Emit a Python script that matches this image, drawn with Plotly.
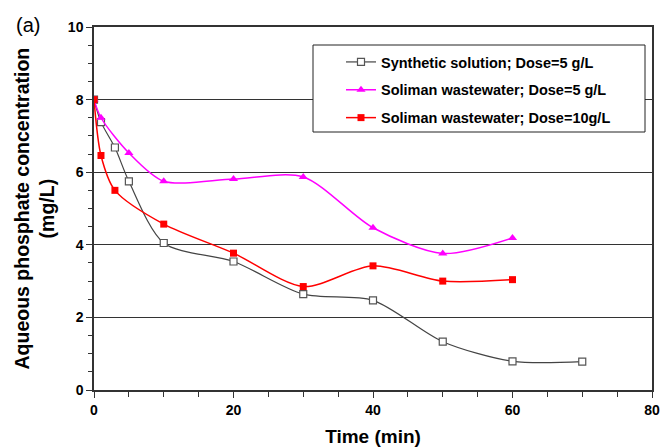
import plotly.graph_objects as go

# Data
t_syn = [0, 1, 3, 5, 10, 20, 30, 40, 50, 60, 70]
c_syn = [8.0, 7.38, 6.68, 5.75, 4.05, 3.54, 2.64, 2.47, 1.33, 0.79, 0.78]

t_sw5 = [0, 1, 5, 10, 20, 30, 40, 50, 60]
c_sw5 = [8.0, 7.5, 6.53, 5.75, 5.81, 5.87, 4.47, 3.76, 4.19]

t_sw10 = [0, 1, 3, 10, 20, 30, 40, 50, 60]
c_sw10 = [8.0, 6.46, 5.5, 4.57, 3.77, 2.85, 3.42, 3.0, 3.04]

names = [
    "Synthetic solution; Dose=5 g/L",
    "Soliman wastewater; Dose=5 g/L",
    "Soliman wastewater; Dose=10g/L",
]

x_ticks = [0, 20, 40, 60, 80]
y_ticks = [0, 2, 4, 6, 8, 10]

FONT = "Liberation Sans, Arial, sans-serif"
L, R, T, B = 94, 652, 27, 390
PW, PH = R - L, B - T

def px_x(p):
    return (p - L) / PW

def px_y(p):
    return (B - p) / PH

fig = go.Figure()
fig.add_trace(go.Scatter(
    x=t_syn, y=c_syn, name=names[0], mode="lines+markers",
    line=dict(color="#444444", width=1.2, shape="spline", smoothing=0.8),
    marker=dict(symbol="square", size=7, color="white",
                line=dict(color="#555555", width=1.2)),
    legendgroup="a",
))
fig.add_trace(go.Scatter(
    x=t_sw5, y=c_sw5, name=names[1], mode="lines+markers",
    line=dict(color="#ff00ff", width=1.5, shape="spline", smoothing=0.8),
    marker=dict(symbol="triangle-up", size=8, color="#ff00ff"),
    legendgroup="b",
))
fig.add_trace(go.Scatter(
    x=t_sw10, y=c_sw10, name=names[2], mode="lines+markers",
    line=dict(color="#ff0000", width=1.5, shape="spline", smoothing=0.8),
    marker=dict(symbol="square", size=7, color="#ff0000"),
    legendgroup="c",
))

# legend box
fig.add_shape(type="rect", xref="paper", yref="paper",
              x0=px_x(313), x1=px_x(645), y0=px_y(132), y1=px_y(45),
              line=dict(color="#222222", width=1), fillcolor="white", layer="above")

fig.update_layout(
    width=662, height=447,
    margin=dict(l=L, r=662 - R, t=T, b=447 - B, autoexpand=False),
    paper_bgcolor="white", plot_bgcolor="white",
    font=dict(family=FONT, color="black"),
    showlegend=True,
    legend=dict(
        x=px_x(341), y=px_y(46), xanchor="left", yanchor="top",
        bgcolor="rgba(0,0,0,0)", borderwidth=0,
        font=dict(family=FONT, size=14.5, color="black", weight="bold"),
        tracegroupgap=6, itemwidth=30,
    ),
    xaxis=dict(
        range=[0, 80], tickvals=x_ticks, ticktext=[str(v) for v in x_ticks],
        tickfont=dict(family=FONT, size=14, weight="bold"),
        ticks="outside", ticklen=6, tickcolor="#333333", tickwidth=1.2,
        minor=dict(dtick=5, ticks="outside", ticklen=5, tickcolor="#333333", tickwidth=1.2, showgrid=False),
        showline=True, linecolor="#333333", linewidth=1.5, mirror=True,
        showgrid=False, zeroline=False, automargin=False,
        title=dict(text="Time (min)", font=dict(family=FONT, size=19, weight="bold"), standoff=13),
    ),
    yaxis=dict(
        range=[0, 10], tickvals=y_ticks, ticktext=[str(v) for v in y_ticks],
        tickfont=dict(family=FONT, size=14, weight="bold"),
        ticks="outside", ticklen=6, tickcolor="#333333", tickwidth=1.2,
        minor=dict(dtick=0.5, ticks="outside", ticklen=4, tickcolor="#333333", tickwidth=1.2, showgrid=False),
        showline=True, linecolor="#333333", linewidth=1.5, mirror=True,
        showgrid=True, gridcolor="#333333", gridwidth=1.3, zeroline=False, automargin=False,
    ),
    annotations=[
        dict(text="(a)", xref="paper", yref="paper",
             x=px_x(14), y=px_y(25), xanchor="left", yanchor="middle",
             showarrow=False, font=dict(family=FONT, size=20, color="black")),
        dict(text="Aqueous phosphate concentration<br>(mg/L)", xref="paper", yref="paper",
             x=px_x(34), y=0.5, xanchor="center", yanchor="middle", textangle=-90,
             showarrow=False, font=dict(family=FONT, size=19.5, color="black", weight="bold")),
    ],
)

fig.write_html("out.html")
